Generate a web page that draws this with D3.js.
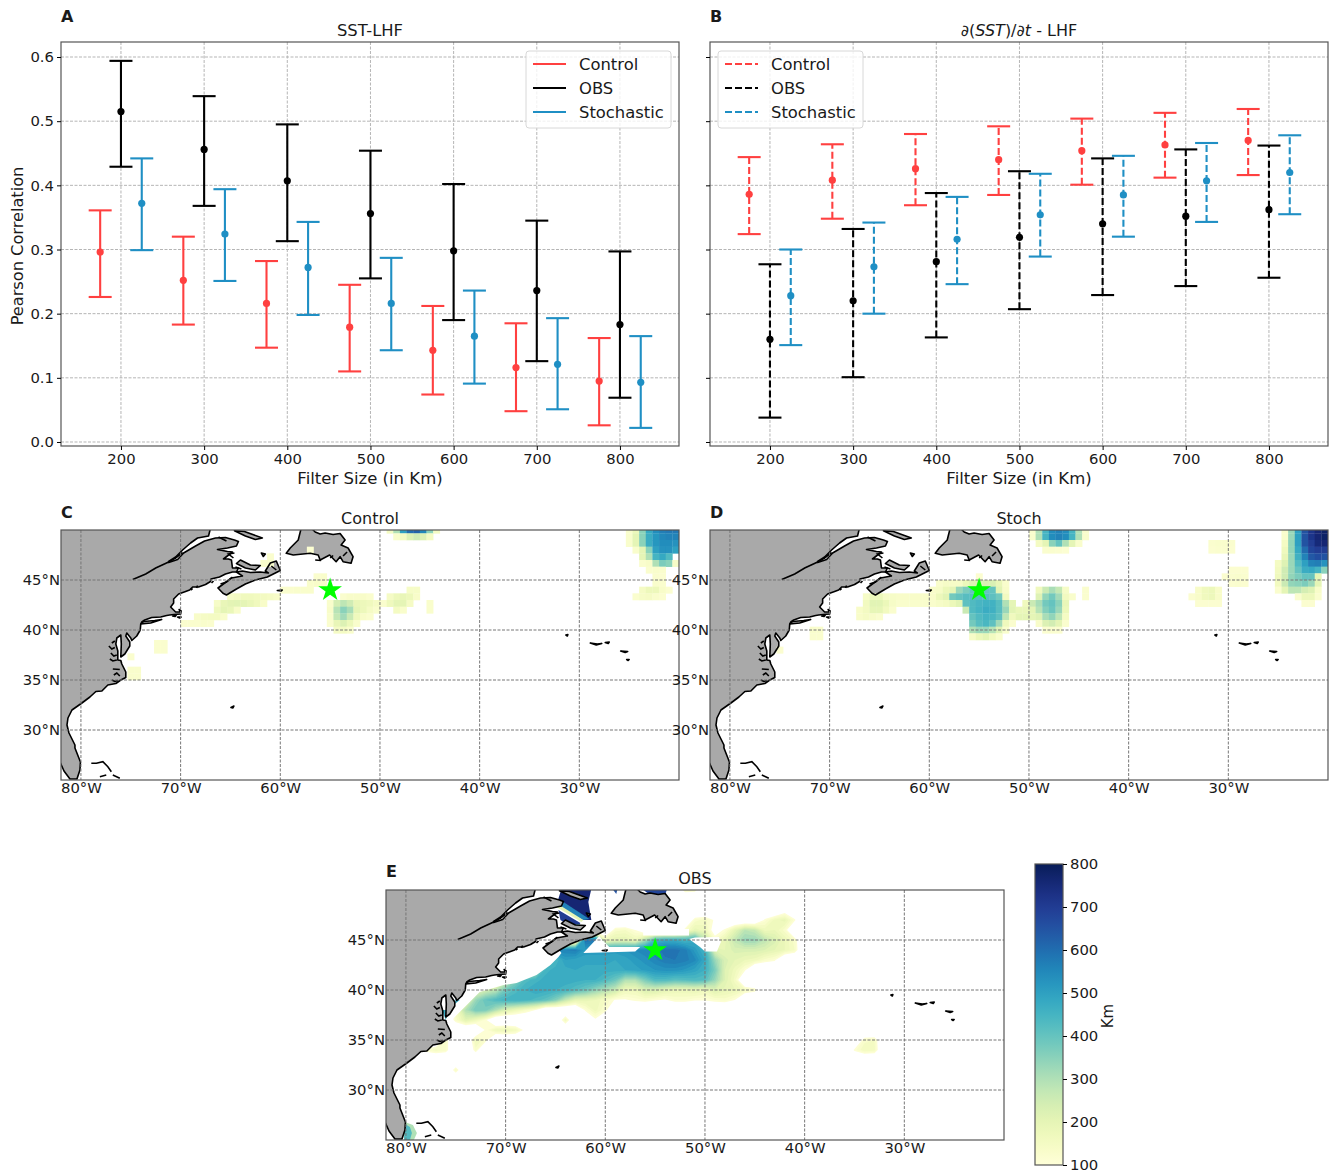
<!DOCTYPE html>
<html>
<head>
<meta charset="utf-8">
<script src="https://cdn.jsdelivr.net/npm/d3@7"></script>
<style>
    body { margin: 0; background: #fff; }
    text { font-family: "DejaVu Sans", sans-serif; fill: #1a1a1a; }
    .tick text { font-size: 14.8px; }
</style>
</head>
<body>
<script>
// error bar data
var filterSizes = [200, 300, 400, 500, 600, 700, 800];

var sstControlMean = [.296, .252, .216, .179, .143, .116, .095];
var sstControlLow = [.226, .183, .147, .110, .074, .048, .026];
var sstControlHigh = [.361, .320, .282, .245, .212, .185, .162];
var sstObsMean = [.515, .456, .407, .356, .298, .236, .183];
var sstObsLow = [.429, .368, .313, .255, .190, .126, .069];
var sstObsHigh = [.594, .539, .495, .454, .402, .345, .297];
var sstStochMean = [.372, .324, .272, .216, .165, .121, .093];
var sstStochLow = [.299, .251, .198, .143, .091, .051, .022];
var sstStochHigh = [.442, .394, .343, .287, .236, .193, .165];

var dsstControlMean = [.386, .408, .426, .440, .454, .463, .470];
var dsstControlLow = [.324, .348, .369, .385, .401, .412, .416];
var dsstControlHigh = [.444, .464, .480, .492, .504, .513, .519];
var dsstObsMean = [.160, .220, .281, .319, .340, .352, .362];
var dsstObsLow = [.038, .101, .163, .207, .229, .243, .256];
var dsstObsHigh = [.277, .332, .388, .422, .442, .456, .462];
var dsstStochMean = [.228, .273, .316, .354, .385, .407, .420];
var dsstStochLow = [.151, .200, .246, .289, .320, .343, .355];
var dsstStochHigh = [.300, .342, .382, .418, .446, .466, .478];

var seriesNames = ['Control', 'OBS', 'Stochastic'];
var corrTicks = [0, .1, .2, .3, .4, .5, .6];
var lonTicks = [-80, -70, -60, -50, -40, -30];
var latTicks = [45, 40, 35, 30];
var kmTicks = [100, 200, 300, 400, 500, 600, 700, 800];

// filter size in km on a 2/3 degree grid: [row from 50N, first col from 82W, values...]
var controlCells = [
    [0, 49, 150, 300, 500, 600, 620, 550, 350, 150], [1, 50, 130, 150, 220, 250, 220, 150],
    [3, 37, 115], [4, 31, 125], [5, 30, 130, 130],
    [7, 38, 125, 130],
    [8, 37, 130, 135, 135],
    [9, 33, 125, 125, 130, 130, 130], [9, 52, 140, 140],
    [10, 25, 140, 155, 165, 165, 160, 155, 145, 135], [10, 42, 125, 135, 135, 135, 125], [10, 49, 145, 175, 190, 175, 135],
    [11, 23, 140, 190, 205, 210, 200, 185, 165, 135], [11, 40, 130, 240, 280, 250, 190, 175, 165, 145, 125], [11, 49, 170, 200, 200, 145], [11, 55, 130],
    [12, 23, 170, 200, 185, 135], [12, 40, 135, 290, 350, 310, 200, 175, 145, 130], [12, 50, 150, 130], [12, 55, 130],
    [13, 20, 135, 145, 150, 150, 130], [13, 40, 130, 270, 320, 260, 170, 135, 125],
    [14, 18, 125, 125, 125, 130, 125], [14, 40, 125, 190, 225, 180, 130],
    [15, 41, 145, 150, 130],
    [17, 14, 125, 125], [18, 14, 125, 125],
    [19, 10, 125], [21, 10, 130, 130], [22, 10, 130, 130],
    [0, 85, 130, 180, 350, 480, 540, 570, 580, 580],
    [1, 85, 130, 200, 350, 470, 520, 550, 560, 560],
    [2, 85, 130, 200, 350, 470, 520, 540, 540, 530],
    [3, 86, 130, 200, 350, 500, 530, 530, 500],
    [4, 87, 200, 300, 450, 480, 430],
    [5, 87, 125, 135, 300, 370, 350, 140],
    [6, 88, 125, 130, 125], [7, 89, 125, 120], [8, 89, 130, 125],
    [9, 87, 145, 175, 175, 135, 120], [10, 86, 125, 140, 145, 130, 120]
];
var stochCells = [
    [0, 48, 130, 300, 450, 540, 560, 540, 450, 300, 130], [1, 48, 130, 300, 450, 540, 560, 540, 450, 300, 130],
    [2, 49, 150, 200, 350, 400, 300, 200, 130], [3, 50, 125, 125, 120, 115],
    [7, 40, 120],
    [8, 34, 130, 140, 140, 140, 180, 220, 230, 230, 230, 190, 130],
    [9, 33, 135, 140, 180, 200, 330, 370, 400, 400, 400, 400, 210, 135], [9, 49, 165, 260, 310, 270, 140], [9, 56, 125],
    [10, 23, 140, 180, 180, 140, 140, 135, 135, 135, 135, 135, 135, 180, 210, 380, 400, 420, 420, 420, 420, 410, 380, 160], [10, 49, 220, 340, 380, 320, 160, 130], [10, 56, 125],
    [11, 23, 160, 210, 210, 180, 140, 130, 130, 130, 130, 130, 130, 140, 150, 180, 210, 410, 430, 445, 455, 455, 420, 300, 200], [11, 47, 165, 260, 310, 380, 400, 350, 190],
    [12, 22, 135, 155, 195, 195, 160, 125], [12, 38, 260, 430, 450, 470, 460, 420, 330, 210, 185, 185, 200, 290, 360, 390, 330, 180],
    [13, 22, 135, 145, 135, 125], [13, 39, 400, 430, 450, 440, 410, 280, 165, 200, 200, 200, 220, 310, 340, 280, 150],
    [14, 39, 380, 420, 440, 410, 320, 170, 125], [14, 49, 135, 225, 245, 205, 125],
    [15, 15, 130, 130], [15, 39, 300, 330, 330, 290, 220, 130], [15, 50, 120, 125, 120],
    [16, 15, 125, 125], [16, 39, 140, 180, 200, 160, 130],
    [18, 10, 120],
    [2, 75, 125, 130, 130, 125], [3, 75, 120, 125, 125, 120],
    [6, 78, 120, 120, 120], [7, 77, 120, 125, 130, 125], [8, 78, 120, 125, 120],
    [9, 73, 135, 165, 175, 135], [10, 72, 120, 135, 165, 175, 135], [11, 73, 120, 120, 120, 120],
    [0, 86, 130, 330, 500, 650, 720, 760, 780],
    [1, 86, 130, 330, 500, 650, 720, 760, 780],
    [2, 86, 150, 340, 500, 650, 700, 750, 760],
    [3, 86, 170, 340, 480, 600, 680, 700, 700],
    [4, 86, 190, 330, 460, 560, 640, 660, 650],
    [5, 85, 150, 220, 330, 430, 500, 560, 570, 530],
    [6, 85, 160, 250, 330, 400, 470, 480, 450, 350],
    [7, 85, 170, 250, 340, 370, 400, 400, 200],
    [8, 85, 160, 260, 340, 350, 370, 330, 200],
    [9, 85, 125, 200, 280, 280, 240, 220, 135],
    [10, 88, 125, 175, 175, 125], [11, 89, 120, 120]
];

// obs field on a 1 degree grid: [lat, first lon, values...]
var obsRows = [
    [50, -52, 130, 120],
    [48, -42, 60],
    [47, -51, 130, 150, 90, 0, 0, 0, 0, 110, 170, 190, 110],
    [46, -59, 130, 140, 100, 0, 0, 0, 0, 120, 190, 170, 60, 110, 200, 280, 260, 170, 180, 130],
    [45, -62, 600, 580, 170, 200, 200, 170, 300, 440, 470, 470, 440, 470, 300, 130, 190, 270, 330, 330, 280, 230, 180, 130],
    [44, -65, 550, 560, 570, 510, 510, 510, 510, 520, 540, 555, 570, 590, 590, 570, 510, 450, 220, 200, 230, 230, 230, 220, 200, 180, 140],
    [43, -65, 440, 500, 490, 490, 490, 490, 480, 490, 510, 530, 555, 575, 580, 570, 545, 480, 330, 230, 200, 180, 170, 130, 110],
    [42, -67, 300, 450, 470, 470, 480, 470, 470, 470, 470, 480, 490, 505, 520, 530, 530, 515, 490, 460, 370, 220, 170, 110],
    [41, -70, 220, 350, 430, 450, 470, 470, 470, 470, 460, 460, 430, 390, 300, 300, 370, 430, 430, 410, 420, 430, 420, 330, 220, 150],
    [40, -73, 200, 240, 280, 380, 430, 460, 480, 470, 460, 450, 420, 390, 340, 300, 260, 170, 170, 230, 230, 200, 180, 180, 190, 170, 220, 190, 180, 150, 120],
    [39, -74, 170, 330, 400, 430, 450, 460, 450, 430, 410, 360, 270, 200, 190, 180, 140, 95, 95, 110, 120, 105, 95, 120, 120, 105, 105, 120, 130, 100],
    [38, -75, 150, 300, 380, 370, 300, 220, 180, 140, 100, 0, 0, 0, 0, 110, 170, 120],
    [37, -75, 130, 210, 170, 110, 0, 0, 0, 0, 0, 0, 0, 160, 0, 0, 90],
    [36, -72, 110, 170, 180, 160, 80],
    [35, -76, 130, 0, 0, 170, 120],
    [35, -34, 130, 140],
    [34, -78, 120, 150, 130, 0, 0, 130],
    [34, -35, 110, 160, 150],
    [32, -75, 140]
];
// white shelf areas where the obs field stops sharply, lon/lat
var obsMasks = [
    [[-75.4, 37], [-73.6, 38.8], [-72.6, 39.8], [-70.2, 40.5], [-68.9, 40.7], [-66.9, 41.5], [-65.5, 42.5], [-64.7, 43.3], [-64.4, 43.7], [-65, 44.5], [-66.5, 45.5], [-72, 45], [-78, 40], [-76.5, 36.5]],
    [[-62.2, 43.7], [-57, 43.85], [-56.5, 44.3], [-59.6, 44.3], [-60.3, 45], [-60.6, 45.4]],
    [[-51.6, 45.1], [-50.5, 44.3], [-50, 43.85], [-48.8, 43.85], [-48.4, 44.8], [-48.6, 45.3], [-51, 45.25]],
    [[-56.2, 45.45], [-51.6, 45.45], [-51.6, 46.1], [-56.2, 46.1]]
];
// small obs patches too narrow for the 1 degree grid
var obsPatchKm = [760, 560, 200, 700, 400, 300, 430, 480, 470, 680, 650];
var obsPatches = [
    [[-64.4, 50.1], [-61.4, 50.1], [-61.7, 48.8], [-61.4, 47], [-62.2, 47], [-64.9, 48.5]],
    [[-64.9, 48.5], [-62.2, 47], [-61.6, 47.1], [-64.2, 48.8]],
    [[-64.9, 48.3], [-64.6, 48.5], [-62.2, 47], [-62.4, 46.8]],
    [[-64.7, 48], [-62.5, 46.7], [-62.9, 46], [-64.5, 47]],
    [[-63.8, 46.4], [-62.6, 46.6], [-62.6, 46.05], [-63.5, 46.1]],
    [[-80.1, 26.8], [-79.3, 26.5], [-78.9, 25.7], [-79.2, 25], [-80.2, 25]],
    [[-80.1, 26.6], [-79.6, 26.3], [-79.4, 25.7], [-79.6, 25], [-80.2, 25]],
    [[-75, 39.2], [-74.6, 39], [-75.1, 38.6]],
    [[-76.4, 38], [-75.7, 38], [-76, 37]],
    [[-56.3, 50.1], [-53.8, 50.1], [-54, 49.5], [-55.5, 49.5]],
    [[-59.2, 50], [-58.8, 50], [-58.9, 49.6]]
];

// coastlines, lon/lat
var mainland = [[-82.1, 26.8], [-81.7, 25.9], [-81.1, 25.1], [-80.4, 25.1], [-80.1, 26], [-80.05, 26.8], [-80.6, 28.2], [-80.6, 28.5], [-81.2, 29.7], [-81.4, 30.5], [-81.3, 31.2], [-80.9, 32], [-79.9, 32.7], [-79.1, 33.3], [-78.5, 33.85], [-77.9, 33.9], [-77.3, 34.5], [-76.5, 34.65], [-76, 35], [-75.5, 35.25], [-75.5, 35.8], [-75.9, 36.6], [-76, 36.95], [-76.3, 37], [-76.3, 37.9], [-76.5, 38.6], [-76.4, 39.2], [-76, 39.5], [-75.95, 38.6], [-76, 37.3], [-75.6, 37.6], [-75.1, 38.4], [-75.1, 38.8], [-75.5, 39.4], [-75.4, 39.7], [-75, 39.2], [-74.9, 38.95], [-74.4, 39.4], [-74.05, 40], [-74, 40.6], [-73.9, 40.8], [-73.6, 41], [-72.9, 41.25], [-72, 41.3], [-71.4, 41.45], [-71.1, 41.5], [-70.65, 41.55], [-70, 41.6], [-69.95, 41.9], [-70.15, 42.05], [-70, 41.8], [-70.5, 41.8], [-70.7, 42], [-71, 42.3], [-70.7, 42.7], [-70.7, 43.1], [-70.2, 43.6], [-69.5, 43.85], [-69.1, 44], [-68.8, 44.3], [-68.2, 44.3], [-67.5, 44.55], [-67, 44.85], [-66.95, 45.1], [-66.1, 45.3], [-65.5, 45.6], [-64.8, 45.8], [-64.4, 45.8], [-64.2, 46.2], [-64.8, 46.2], [-64.9, 47], [-65.2, 47.1], [-65.7, 47.1], [-64.8, 47.8], [-65.3, 47.85], [-66.3, 48.05], [-65.3, 48.2], [-64.4, 48.4], [-64.2, 48.85], [-64.6, 49], [-65.5, 49.25], [-66.5, 49.2], [-67.6, 48.9], [-68.5, 48.4], [-69.7, 47.7], [-70.3, 47.05], [-71.2, 46.75], [-71.2, 46.85], [-70.5, 47.3], [-69.8, 48], [-69, 48.7], [-68.3, 49.2], [-67.2, 49.4], [-67, 50.2], [-83, 50.2], [-83, 26.8]];
var novaScotia = [[-66.25, 44.2], [-65.75, 43.67], [-65.4, 43.5], [-64.4, 44.1], [-63.5, 44.6], [-62.5, 45], [-61.3, 45.3], [-60, 45.95], [-60.4, 46.9], [-61, 46.7], [-61.5, 45.9], [-61.2, 45.7], [-62, 45.8], [-63, 45.75], [-63.8, 45.9], [-64.4, 45.8], [-63.8, 45.4], [-64.9, 45.2], [-66.25, 44.2]];
var otherLand = [
    // Newfoundland
    [[-59.4, 47.67], [-59, 48.2], [-58.2, 49], [-57.9, 50.2], [-56.9, 50.2], [-56.5, 49.8], [-56, 49.6], [-55.5, 49.7], [-54.7, 49.55], [-54, 49.65], [-53.5, 49], [-53.9, 48.5], [-53.2, 48.2], [-52.7, 47.33], [-52.9, 46.67], [-53.7, 46.83], [-54, 47.33], [-54.4, 46.83], [-55.05, 47.5], [-56, 47], [-56.2, 47.5], [-57, 47.67], [-58.7, 47.5]],
    // Prince Edward Island, Anticosti, Magdalen
    [[-64.4, 46.65], [-64, 47], [-63, 46.5], [-62, 46.45], [-62.5, 46], [-63.5, 46.2]],
    [[-64.6, 49.93], [-63.6, 49.85], [-61.8, 49.2], [-62.5, 49.05], [-63.5, 49.4]],
    [[-61.9, 47.7], [-61.5, 47.6], [-61.7, 47.35]],
    // Long Island
    [[-74, 40.6], [-73, 40.7], [-71.9, 41.05], [-72.6, 40.95], [-73.7, 40.85]],
    // Nantucket, Martha's Vineyard, Sable, Bermuda
    [[-70.3, 41.3], [-69.95, 41.3], [-70.1, 41.2]], [[-70.8, 41.4], [-70.45, 41.45], [-70.55, 41.35]],
    [[-60.3, 43.95], [-59.8, 44], [-59.9, 43.9]], [[-64.95, 32.25], [-64.65, 32.4], [-64.75, 32.2]],
    // Azores
    [[-31.35, 39.5], [-31.15, 39.55], [-31.2, 39.4]],
    [[-28.9, 38.7], [-28.2, 38.6], [-27.75, 38.65], [-28.3, 38.5]],
    [[-27.4, 38.75], [-27, 38.8], [-27.1, 38.65]],
    [[-25.85, 37.9], [-25.15, 37.85], [-25.4, 37.75]],
    [[-25.25, 37.05], [-25, 37.05], [-25.1, 36.95]]
];
var coastLines = [
    // river
    [[-69.8, 47.75], [-70.5, 47.2], [-71.2, 46.8], [-72.5, 46.2], [-73.5, 45.6], [-74.8, 45.05]],
    // Bahamas
    [[-78.96, 26.67], [-78.45, 26.67], [-77.8, 26.83], [-77.3, 26.33], [-76.95, 25.83]],
    [[-78.1, 25.33], [-77.46, 25.5]], [[-76.8, 25.5], [-76.1, 25.17]],
    // Chesapeake and Carolina inlets
    [[-77.2, 38.4], [-76.9, 38.1], [-76.6, 38.25]], [[-77, 37.7], [-76.7, 37.4], [-76.4, 37.5]], [[-77.1, 37.1], [-76.8, 36.9], [-76.4, 37]],
    [[-76.8, 36.1], [-76.1, 36.05]], [[-76.7, 35.5], [-76.4, 35.7], [-76.1, 35.4]], [[-76.9, 35], [-76.6, 34.85], [-76.3, 34.95]],
    [[-76.6, 38.9], [-76.9, 38.7]],
    // Gaspe, Fundy and Newfoundland bays
    [[-66.2, 49.3], [-65.4, 48.9]], [[-64.7, 47.2], [-65.2, 47.6], [-64.6, 47.7]],
    [[-66, 44.6], [-65.4, 44.8], [-64.8, 45.3]], [[-64.5, 46.3], [-63.9, 46.1]], [[-60.9, 46.4], [-60.4, 46]],
    [[-56.5, 47], [-55.9, 46.95]], [[-55, 47.2], [-54.7, 47.45]], [[-53.7, 47.4], [-53.3, 47.8]],
    [[-68.4, 44.2], [-68.3, 44.45]], [[-69, 44], [-68.8, 44.15]], [[-66.9, 44.7], [-66.7, 44.9]]
];

var svg = d3.select('body')
    .append('svg')
    .attr('width', 1330)
    .attr('height', 1172)
    .style('display', 'block');

var defs = svg.append('defs');
defs.append('filter').attr('id', 'softCells').append('feGaussianBlur').attr('stdDeviation', 0.6);
defs.append('filter').attr('id', 'softMap').append('feGaussianBlur').attr('stdDeviation', 0.45);

var yl = d3.scaleSequential(d3.interpolateYlGnBu).domain([100, 800]);

function bandSeries(mean, low, high) {
    return mean.map(function(m, i) {
        return {size: filterSizes[i], mean: m, low: low[i], high: high[i]};
    });
}

function caption(x, y, label, size, weight, anchor) {
    return svg.append('text')
        .attr('x', x)
        .attr('y', y)
        .attr('text-anchor', anchor || 'middle')
        .style('font-size', size + 'px')
        .style('font-weight', weight || 'normal')
        .text(label);
}

// error bar panels
function errorPanel(left, groups, dash, legendLeft, showY) {
    var width = 618, top = 42, height = 404;
    var x = d3.scaleLinear().domain([127.9, 871]).range([left, left + width]);
    var y = d3.scaleLinear().domain([-0.00624, 0.6234]).range([top + height, top]);
    var g = svg.append('g');

    g.selectAll('.vgrid').data(filterSizes).enter().append('line')
        .attr('x1', function(d) { return x(d); })
        .attr('x2', function(d) { return x(d); })
        .attr('y1', top).attr('y2', top + height)
        .style('stroke', '#b5b5b5').style('stroke-dasharray', '3,1.5');
    g.selectAll('.hgrid').data(corrTicks).enter().append('line')
        .attr('x1', left).attr('x2', left + width)
        .attr('y1', function(d) { return y(d); })
        .attr('y2', function(d) { return y(d); })
        .style('stroke', '#b5b5b5').style('stroke-dasharray', '3,1.5');

    groups.forEach(function(s) {
        var bars = g.append('g').selectAll('g').data(s.data).enter().append('g')
            .attr('transform', function(d) { return 'translate(' + x(d.size + s.shift) + ',0)'; });
        bars.append('line')
            .attr('y1', function(d) { return y(d.low); })
            .attr('y2', function(d) { return y(d.high); })
            .style('stroke', s.color).style('stroke-width', 2.1)
            .style('stroke-dasharray', dash);
        ['low', 'high'].forEach(function(k) {
            bars.append('line')
                .attr('x1', -11.5).attr('x2', 11.5)
                .attr('y1', function(d) { return y(d[k]); })
                .attr('y2', function(d) { return y(d[k]); })
                .style('stroke', s.color).style('stroke-width', 2.1);
        });
        bars.append('circle')
            .attr('cy', function(d) { return y(d.mean); })
            .attr('r', 3.6)
            .style('fill', s.color);
    });

    g.append('rect')
        .attr('x', left).attr('y', top).attr('width', width).attr('height', height)
        .style('fill', 'none').style('stroke', '#555').style('stroke-width', 1.2);

    g.append('g')
        .attr('transform', 'translate(0,' + (top + height) + ')')
        .call(d3.axisBottom(x).tickValues(filterSizes).tickSize(4).tickPadding(3))
        .call(function(a) { a.select('.domain').remove(); });
    var yAxis = d3.axisLeft(y).tickValues(corrTicks).tickSize(4).tickPadding(3)
        .tickFormat(showY ? d3.format('.1f') : '');
    g.append('g')
        .attr('transform', 'translate(' + left + ',0)')
        .call(yAxis)
        .call(function(a) { a.select('.domain').remove(); });

    // legend
    var legend = g.append('g').attr('transform', 'translate(' + legendLeft + ',51)');
    legend.append('rect')
        .attr('width', 145).attr('height', 77).attr('rx', 3)
        .style('fill', 'rgba(255,255,255,0.8)').style('stroke', '#d8d8d8');
    groups.forEach(function(s, i) {
        legend.append('line')
            .attr('x1', 7).attr('x2', 40)
            .attr('y1', 13 + i * 24).attr('y2', 13 + i * 24)
            .style('stroke', s.color).style('stroke-width', 2.1)
            .style('stroke-dasharray', dash);
        legend.append('text')
            .attr('x', 53).attr('y', 18.5 + i * 24)
            .style('font-size', '16.4px')
            .text(seriesNames[i]);
    });
}

function groupsFor(a, b, c) {
    return [
        {data: a, color: '#ff4040', shift: -25},
        {data: b, color: '#000000', shift: 0},
        {data: c, color: '#1f8fc4', shift: 25}
    ];
}

errorPanel(61, groupsFor(
    bandSeries(sstControlMean, sstControlLow, sstControlHigh),
    bandSeries(sstObsMean, sstObsLow, sstObsHigh),
    bandSeries(sstStochMean, sstStochLow, sstStochHigh)), 'none', 526, true);
errorPanel(710, groupsFor(
    bandSeries(dsstControlMean, dsstControlLow, dsstControlHigh),
    bandSeries(dsstObsMean, dsstObsLow, dsstObsHigh),
    bandSeries(dsstStochMean, dsstStochLow, dsstStochHigh)), '7,3', 718, false);

caption(370, 36, 'SST-LHF', 16.4);
var bTitle = caption(1019, 36, '', 16);
bTitle.append('tspan').text('∂(');
bTitle.append('tspan').style('font-style', 'italic').text('SST');
bTitle.append('tspan').text(')/∂');
bTitle.append('tspan').style('font-style', 'italic').text('t');
bTitle.append('tspan').text(' - LHF');
caption(370, 484, 'Filter Size (in Km)', 16.5);
caption(1019, 484, 'Filter Size (in Km)', 16.5);
svg.append('text')
    .attr('transform', 'translate(23,246) rotate(-90)')
    .attr('text-anchor', 'middle')
    .style('font-size', '16.2px')
    .text('Pearson Correlation');

// map panels
var mapCount = 0;
function mapPanel(left, top, cells, useObs) {
    var width = 618, height = 250;
    var lon = d3.scaleLinear().domain([-82, -20]).range([left, left + width]);
    var lat = d3.scaleLinear().domain([25, 50]).range([top + height, top]);
    var ring = d3.line()
        .x(function(d) { return lon(d[0]); })
        .y(function(d) { return lat(d[1]); });
    var clipId = 'clip' + (mapCount++);

    svg.append('clipPath').attr('id', clipId).append('rect')
        .attr('x', left).attr('y', top).attr('width', width).attr('height', height);
    var clipped = svg.append('g').attr('clip-path', 'url(#' + clipId + ')');
    var g = clipped.append('g').attr('filter', 'url(#softMap)');

    if (useObs) {
        // obs field as filled contours of the 1 degree grid
        var lonMin = -82, lonMax = -32, latMax = 50, latMin = 31;
        var nx = lonMax - lonMin + 1, ny = latMax - latMin + 1;
        var values = new Array(nx * ny).fill(0);
        obsRows.forEach(function(r) {
            r.slice(2).forEach(function(v, i) {
                values[(latMax - r[0]) * nx + (r[1] + i - lonMin)] = v;
            });
        });
        var contours = d3.contours().size([nx, ny])
            .thresholds(d3.range(100, 800, 20))(values);
        var gridPath = d3.geoPath(d3.geoTransform({
            point: function(px, py) {
                this.stream.point(lon(lonMin + px - 0.5), lat(latMax - py + 0.5));
            }
        }));
        g.append('g').selectAll('path').data(contours).enter().append('path')
            .attr('d', gridPath)
            .style('fill', function(d) { return yl(d.value + 10); });
        g.append('g').selectAll('path').data(obsMasks).enter().append('path')
            .attr('d', function(d) { return ring(d) + 'Z'; })
            .style('fill', '#fff');
        g.append('g').selectAll('path').data(obsPatches).enter().append('path')
            .attr('d', function(d) { return ring(d) + 'Z'; })
            .style('fill', function(d, i) { return yl(obsPatchKm[i]); });
    }

    // land
    g.append('g').selectAll('path').data([mainland, novaScotia].concat(otherLand)).enter().append('path')
        .attr('d', function(d) { return ring(d) + 'Z'; })
        .style('fill', '#a9a9a9')
        .style('stroke', 'none');

    if (cells) {
        var flat = [];
        cells.forEach(function(r) {
            r.slice(2).forEach(function(v, i) {
                if (v > 0) flat.push({row: r[0], col: r[1] + i, km: v});
            });
        });
        // cell centres sit on the grid rows, so each cell starts a third of a degree above
        g.append('g').attr('filter', 'url(#softCells)')
            .selectAll('rect').data(flat).enter().append('rect')
            .attr('x', function(d) { return lon(-82 + d.col * 2 / 3); })
            .attr('y', function(d) { return lat(50 - d.row * 2 / 3 + 1 / 3); })
            .attr('width', lon(-82 + 2 / 3) - lon(-82) + 0.3)
            .attr('height', lat(50 - 2 / 3) - lat(50) + 0.3)
            .style('fill', function(d) { return yl(d.km); });
    }

    // coast outline
    g.append('g').selectAll('path').data([mainland, novaScotia].concat(otherLand)).enter().append('path')
        .attr('d', function(d) { return ring(d) + 'Z'; })
        .style('fill', 'none')
        .style('stroke', '#000').style('stroke-width', 1.6).style('stroke-linejoin', 'round');
    g.append('g').selectAll('path').data(coastLines).enter().append('path')
        .attr('d', ring)
        .style('fill', 'none')
        .style('stroke', '#000').style('stroke-width', 1.6);

    // gridlines
    clipped.selectAll('.lonline').data(lonTicks).enter().append('line')
        .attr('x1', function(d) { return lon(d); })
        .attr('x2', function(d) { return lon(d); })
        .attr('y1', top).attr('y2', top + height)
        .style('stroke', '#777').style('stroke-dasharray', '3,1.5');
    clipped.selectAll('.latline').data(latTicks).enter().append('line')
        .attr('x1', left).attr('x2', left + width)
        .attr('y1', function(d) { return lat(d); })
        .attr('y2', function(d) { return lat(d); })
        .style('stroke', '#777').style('stroke-dasharray', '3,1.5');

    // site marker
    clipped.append('path')
        .attr('d', d3.symbol(d3.symbolStar, 175))
        .attr('transform', 'translate(' + lon(-55) + ',' + lat(44) + ')')
        .style('fill', '#00ff00');

    svg.append('rect')
        .attr('x', left).attr('y', top).attr('width', width).attr('height', height)
        .style('fill', 'none').style('stroke', '#555').style('stroke-width', 1.2);

    svg.append('g')
        .attr('transform', 'translate(0,' + (top + height) + ')')
        .call(d3.axisBottom(lon).tickValues(lonTicks).tickSize(0).tickPadding(2)
            .tickFormat(function(d) { return Math.abs(d) + '°W'; }))
        .call(function(a) { a.select('.domain').remove(); });
    svg.append('g')
        .attr('transform', 'translate(' + left + ',0)')
        .call(d3.axisLeft(lat).tickValues(latTicks).tickSize(0).tickPadding(1)
            .tickFormat(function(d) { return d + '°N'; }))
        .call(function(a) { a.select('.domain').remove(); });
}

mapPanel(61, 530, controlCells, false);
mapPanel(710, 530, stochCells, false);
mapPanel(386, 890, null, true);

caption(370, 524, 'Control', 16);
caption(1019, 524, 'Stoch', 16);
caption(695, 884, 'OBS', 16);

caption(61, 22, 'A', 16, 'bold', 'start');
caption(710, 22, 'B', 16, 'bold', 'start');
caption(61, 518, 'C', 16, 'bold', 'start');
caption(710, 518, 'D', 16, 'bold', 'start');
caption(386, 877, 'E', 16, 'bold', 'start');

// colorbar
var barY = d3.scaleLinear().domain([100, 800]).range([1165, 864]);
var grad = defs.append('linearGradient')
    .attr('id', 'kmGrad')
    .attr('x1', 0).attr('x2', 0).attr('y1', 1).attr('y2', 0);
grad.selectAll('stop').data(d3.range(0, 1.001, 0.05)).enter().append('stop')
    .attr('offset', function(d) { return d; })
    .attr('stop-color', function(d) { return yl(100 + d * 700); });
svg.append('rect')
    .attr('x', 1035).attr('y', 864).attr('width', 28).attr('height', 301)
    .style('fill', 'url(#kmGrad)').style('stroke', '#555').style('stroke-width', 1.2);
svg.append('g')
    .attr('transform', 'translate(1063,0)')
    .call(d3.axisRight(barY).tickValues(kmTicks).tickSize(4).tickPadding(3))
    .call(function(a) { a.select('.domain').remove(); });
svg.append('text')
    .attr('transform', 'translate(1113,1016) rotate(-90)')
    .attr('text-anchor', 'middle')
    .style('font-size', '15px')
    .text('Km');
</script>
</body>
</html>
